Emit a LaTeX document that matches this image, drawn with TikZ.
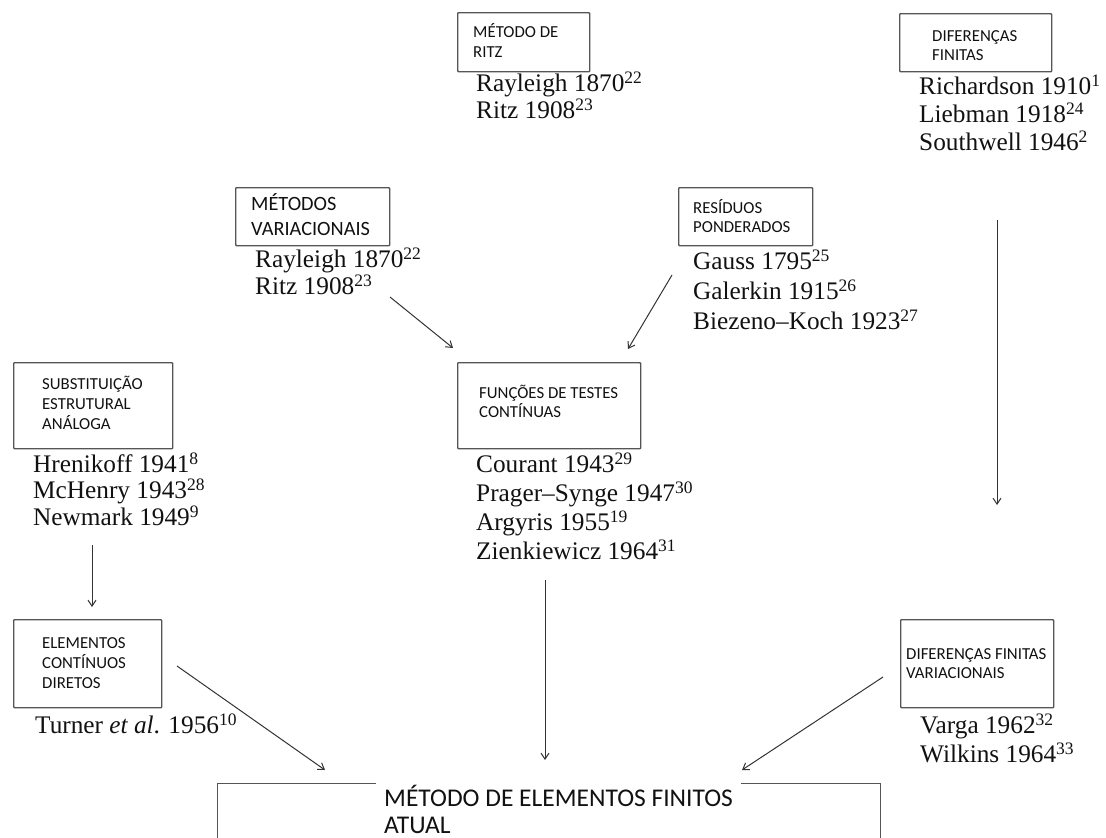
\documentclass[tikz,border=0pt]{standalone}
\usepackage{fontspec}
\setmainfont{Liberation Serif}
\newfontfamily\calfont{Carlito}
\usetikzlibrary{arrows.meta}
\definecolor{boxgray}{HTML}{555555}
\definecolor{arrgray}{HTML}{333333}
\definecolor{txt}{HTML}{111111}
\newcommand\sups[1]{\raisebox{8pt}{\fontsize{17.5}{18}\selectfont #1}}
\tikzset{
  box/.style={draw=boxgray, line width=1.4pt, rounded corners=0.8pt, anchor=north west, inner sep=0pt},
  lbl/.style={font=\calfont\fontsize{16.8}{#1}\selectfont, text=txt, align=left, inner sep=0pt, anchor=base west},
  lbl/.default=20,
  refs/.style={font=\fontsize{25.3}{#1}\selectfont, text=txt, align=left, inner sep=0pt, anchor=base west},
  conn/.style={draw=arrgray, line width=1pt, -{Straight Barb[length=6pt,width=8pt]}}
}
\begin{document}
\begin{tikzpicture}[x=1pt,y=-1pt]
\useasboundingbox (0,0) rectangle (1106,838);
% ---- boxes (text nodes are placed by the baseline of their last line)
\node[box, minimum width=132pt, minimum height=59pt] (ritz) at (457,12) {};
\node[lbl=20] (ritzl) at (473,57) {MÉTODO DE\\RITZ};
\node[refs=24] (ritzr) at (476,118) {Rayleigh 1870\sups{22}\\Ritz 1908\sups{23}};

\node[box, minimum width=152pt, minimum height=58pt] (df) at (899,13) {};
\node[lbl=19] (dfl) at (932,60) {DIFERENÇAS\\FINITAS};
\node[refs=28] (dfr) at (919,150) {Richardson 1910\sups{1}\\Liebman 1918\sups{24}\\Southwell 1946\sups{2}};

\node[box, minimum width=154pt, minimum height=58pt] (mv) at (235,187) {};
\node[font=\calfont\fontsize{20.3}{25}\selectfont, text=txt, align=left, inner sep=0pt, anchor=base west] (mvl) at (251,235) {MÉTODOS\\VARIACIONAIS};
\node[refs=25] (mvr) at (255,294) {Rayleigh 1870\sups{22}\\Ritz 1908\sups{23}};

\node[box, minimum width=134pt, minimum height=58pt] (rp) at (678,187) {};
\node[lbl=19] (rpl) at (693,232) {RESÍDUOS\\PONDERADOS};
\node[refs=30] (rpr) at (693,329) {Gauss 1795\sups{25}\\Galerkin 1915\sups{26}\\Biezeno--Koch 1923\sups{27}};

\node[box, minimum width=159pt, minimum height=86pt] (sea) at (13,362) {};
\node[lbl=20] (seal) at (42,429) {SUBSTITUIÇÃO\\ESTRUTURAL\\ANÁLOGA};
\node[refs=26.5] (sear) at (33,525) {Hrenikoff 1941\sups{8}\\McHenry 1943\sups{28}\\Newmark 1949\sups{9}};

\node[box, minimum width=183pt, minimum height=86pt] (ftc) at (457,362) {};
\node[lbl=19] (ftcl) at (479,417) {FUNÇÕES DE TESTES\\CONTÍNUAS};
\node[refs=29] (ftcr) at (476,559) {Courant 1943\sups{29}\\Prager--Synge 1947\sups{30}\\Argyris 1955\sups{19}\\Zienkiewicz 1964\sups{31}};

\node[box, minimum width=148pt, minimum height=88pt] (ecd) at (13,619) {};
\node[lbl=20] (ecdl) at (42,688) {ELEMENTOS\\CONTÍNUOS\\DIRETOS};
\node[refs=26] (ecdr) at (35,733) {Turner \textit{et al}. 1956\sups{10}};

\node[box, minimum width=153pt, minimum height=88pt] (dfv) at (900,619) {};
\node[lbl=19] (dfvl) at (906,678) {DIFERENÇAS FINITAS\\VARIACIONAIS};
\node[refs=29] (dfvr) at (920,762) {Varga 1962\sups{32}\\Wilkins 1964\sups{33}};

\node[box, rounded corners=0pt, minimum width=663pt, minimum height=90pt] (fem) at (217,783) {};
\node[font=\calfont\fontsize{25.5}{27}\selectfont, text=txt, align=left, fill=white, inner xsep=8pt, inner ysep=4pt, anchor=base west] (feml) at (376,833) {MÉTODO DE ELEMENTOS FINITOS\\ATUAL};

% ---- connector end points
\coordinate (a1s) at (390,297); \coordinate (a1e) at (453,348);
\coordinate (a2s) at (672,275); \coordinate (a2e) at (628,349);
\coordinate (a3s) at (92,545);  \coordinate (a3e) at (92,607);
\coordinate (a4s) at (545,580); \coordinate (a4e) at (545,760);
\coordinate (a5s) at (997,220); \coordinate (a5e) at (997,505);
\coordinate (a6s) at (177,666); \coordinate (a6e) at (325,770);
\coordinate (a7s) at (883,677); \coordinate (a7e) at (742,770);
\draw[conn] (a1s) -- (a1e);
\draw[conn] (a2s) -- (a2e);
\draw[conn] (a3s) -- (a3e);
\draw[conn] (a4s) -- (a4e);
\draw[conn] (a5s) -- (a5e);
\draw[conn] (a6s) -- (a6e);
\draw[conn] (a7s) -- (a7e);
\end{tikzpicture}
\end{document}
